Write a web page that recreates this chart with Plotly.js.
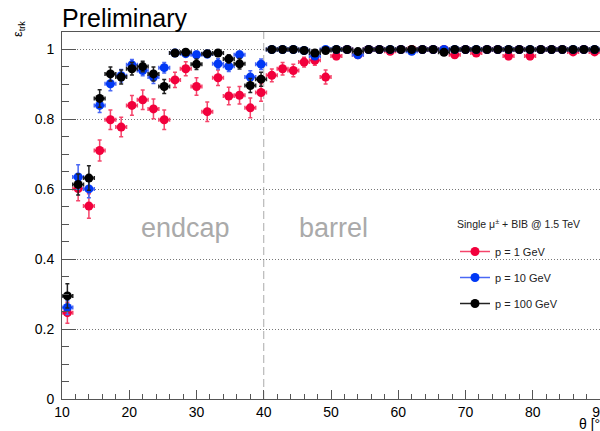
<!DOCTYPE html>
<html>
<head>
<meta charset="utf-8">
<script src="https://cdn.plot.ly/plotly-3.0.1.min.js"></script>
<style>html,body{margin:0;padding:0;background:#fff;}#chart{width:600px;height:431px;}</style>
</head>
<body>
<div id="chart"></div>
<script>
// Bin centres (theta, degrees), bins of width 1.6 deg from 10 to 90
const thetaCenters = [10.8,12.4,14.0,15.6,17.2,18.8,20.4,22.0,23.6,25.2,
  26.8,28.4,30.0,31.6,33.2,34.8,36.4,38.0,39.6,41.2,
  42.8,44.4,46.0,47.6,49.2,50.8,52.4,54.0,55.6,57.2,
  58.8,60.4,62.0,63.6,65.2,66.8,68.4,70.0,71.6,73.2,
  74.8,76.4,78.0,79.6,81.2,82.8,84.4,86.0,87.6,89.2];
const binHalfWidth = 0.8;

const effP1 = [0.247,0.602,0.552,0.711,0.799,0.778,0.840,0.856,0.830,0.799,
  0.913,0.945,0.894,0.822,0.919,0.867,0.869,0.833,0.877,0.926,
  0.945,0.940,0.964,0.969,0.921,0.981,1.000,0.985,1.000,1.000,
  0.995,1.000,1.000,1.000,1.000,1.000,0.985,1.000,0.990,1.000,
  1.000,0.981,1.000,0.981,1.000,1.000,1.000,0.993,1.000,0.993];
const errP1 = [0.030,0.035,0.035,0.030,0.028,0.028,0.028,0.028,0.028,0.028,
  0.022,0.020,0.025,0.028,0.022,0.025,0.025,0.028,0.025,0.018,
  0.018,0.018,0.014,0.014,0.020,0.010,0.004,0.010,0.004,0.004,
  0.006,0.004,0.004,0.004,0.004,0.004,0.010,0.004,0.008,0.004,
  0.004,0.010,0.004,0.010,0.004,0.004,0.004,0.006,0.004,0.006];

const effP10 = [0.262,0.635,0.601,0.840,0.902,0.925,0.956,0.940,0.921,0.948,
  0.990,0.988,0.985,0.987,0.959,0.952,0.985,0.921,0.958,1.000,
  1.000,1.000,0.997,0.981,1.000,1.000,1.000,0.985,1.000,1.000,
  1.000,1.000,0.995,1.000,1.000,1.000,1.000,1.000,1.000,1.000,
  1.000,1.000,1.000,1.000,1.000,1.000,1.000,1.000,1.000,1.000];
const errP10 = [0.020,0.035,0.025,0.020,0.020,0.018,0.015,0.015,0.018,0.015,
  0.008,0.008,0.010,0.010,0.015,0.015,0.010,0.018,0.015,0.004,
  0.004,0.004,0.004,0.008,0.004,0.004,0.004,0.008,0.004,0.004,
  0.004,0.004,0.005,0.004,0.004,0.004,0.004,0.004,0.004,0.004,
  0.004,0.004,0.004,0.004,0.004,0.004,0.004,0.004,0.004,0.004];

const effP100 = [0.295,0.614,0.632,0.860,0.930,0.921,0.945,0.951,0.930,0.894,
  0.990,0.992,0.958,0.988,0.990,0.973,0.959,0.897,0.915,1.000,
  1.000,1.000,0.997,0.990,0.997,1.000,1.000,0.994,1.000,1.000,
  1.000,1.000,1.000,1.000,1.000,0.992,1.000,1.000,1.000,1.000,
  1.000,1.000,1.000,1.000,1.000,1.000,1.000,1.000,1.000,1.000];
const errP100 = [0.035,0.030,0.035,0.025,0.020,0.020,0.018,0.015,0.020,0.020,
  0.008,0.008,0.015,0.008,0.008,0.012,0.015,0.020,0.020,0.004,
  0.004,0.004,0.004,0.006,0.004,0.004,0.004,0.005,0.004,0.004,
  0.004,0.004,0.004,0.004,0.004,0.006,0.004,0.004,0.004,0.004,
  0.004,0.004,0.004,0.004,0.004,0.004,0.004,0.004,0.004,0.004];

const seriesNames = ['p = 1 GeV','p = 10 GeV','p = 100 GeV'];
const legendHeader = 'Single μ<sup>±</sup> + BIB @ 1.5 TeV';
const xTickVals = [10,20,30,40,50,60,70,80,90];
const yTickVals = [0,0.2,0.4,0.6,0.8,1];

const FONT = 'Liberation Sans, Arial, Helvetica, sans-serif';
const markerCols = ['#f2003c','#0038f5','#000000'];
const barCols = ['#f5456b','#4a68f5','#222222'];
const effs = [effP1, effP10, effP100];
const errs = [errP1, errP10, errP100];

const traces = [];
for (let k = 0; k < 3; k++) {
  traces.push({
    type: 'scatter', mode: 'markers', x: thetaCenters, y: effs[k],
    showlegend: false, cliponaxis: false,
    marker: {symbol: 'circle', size: 9, color: markerCols[k], line: {width: 0}},
    error_y: {type: 'data', array: errs[k], visible: true, color: barCols[k], thickness: 1.5, width: 2},
    error_x: {type: 'constant', value: binHalfWidth, visible: true, color: barCols[k], thickness: 1.5, width: 2}
  });
}
for (let k = 0; k < 3; k++) {
  traces.push({
    type: 'scatter', mode: 'lines+markers', x: [null], y: [null],
    name: seriesNames[k], legendgroup: 'g' + k, showlegend: true,
    line: {color: barCols[k], width: 1.5},
    marker: {symbol: 'circle', size: 9, color: markerCols[k]}
  });
}

const L = 62, R = 600, T = 32, B = 399;
const px = v => (v - L) / (R - L);
const py = v => (B - v) / (B - T);

const layout = {
  width: 600, height: 431,
  margin: {l: 62, r: 0, t: 32, b: 32, pad: 0},
  paper_bgcolor: '#ffffff', plot_bgcolor: '#ffffff',
  font: {family: FONT, color: '#000', size: 14},
  showlegend: true,
  legend: {
    x: px(455), y: py(237), xanchor: 'left', yanchor: 'top',
    bgcolor: 'rgba(0,0,0,0)', borderwidth: 0,
    font: {family: FONT, size: 11, color: '#222'},
    tracegroupgap: 7, traceorder: 'grouped'
  },
  xaxis: {
    range: [10, 90], tickvals: xTickVals, ticktext: xTickVals.map(String),
    ticks: 'inside', ticklen: 9, tickwidth: 1, tickcolor: '#555',
    showline: true, linecolor: '#555', linewidth: 1, mirror: true,
    showgrid: false, zeroline: false, ticklabeloverflow: 'allow',
    tickfont: {family: FONT, size: 14, color: '#000'},
    minor: {ticks: 'inside', ticklen: 5, dtick: 2, tick0: 10, tickcolor: '#555', showgrid: false}
  },
  yaxis: {
    range: [0, 1.05], tickvals: yTickVals, ticktext: ['0','0.2','0.4','0.6','0.8','1'],
    ticks: 'inside', ticklen: 14, tickwidth: 1, tickcolor: '#555',
    showline: true, linecolor: '#555', linewidth: 1, mirror: true,
    showgrid: true, gridcolor: '#777', gridwidth: 1, griddash: '1px,2px',
    zeroline: false, ticklabelstandoff: 4,
    tickfont: {family: FONT, size: 14, color: '#000'},
    minor: {ticks: 'inside', ticklen: 7, dtick: 0.05, tick0: 0, tickcolor: '#555', showgrid: false}
  },
  shapes: [
    {type: 'line', xref: 'x', yref: 'paper', x0: 40, x1: 40, y0: 0, y1: 1,
     line: {color: '#aaaaaa', width: 1, dash: '8px,4px'}, layer: 'below'}
  ],
  annotations: [
    {text: 'Preliminary', xref: 'paper', yref: 'paper', x: 0, y: py(18), xanchor: 'left', yanchor: 'middle',
     xshift: -2, showarrow: false, font: {family: FONT, size: 25, color: '#000'}},
    {text: 'ε<sub>trk</sub>', xref: 'paper', yref: 'paper', x: px(19), y: py(29), xanchor: 'center', yanchor: 'middle',
     textangle: -90, showarrow: false, font: {family: FONT, size: 13, color: '#000'}},
    {text: 'θ [°]', xref: 'paper', yref: 'paper', x: px(577), y: py(424), xanchor: 'left', yanchor: 'middle',
     showarrow: false, font: {family: FONT, size: 14, color: '#000'}},
    {text: legendHeader, xref: 'paper', yref: 'paper', x: px(455), y: py(223), xanchor: 'left', yanchor: 'middle',
     showarrow: false, font: {family: FONT, size: 10.5, color: '#222'}},
    {text: 'endcap', xref: 'x', yref: 'y', x: 28.3, y: 0.489, xanchor: 'center', yanchor: 'middle',
     showarrow: false, font: {family: FONT, size: 27, color: '#aaaaaa'}},
    {text: 'barrel', xref: 'x', yref: 'y', x: 50.3, y: 0.489, xanchor: 'center', yanchor: 'middle',
     showarrow: false, font: {family: FONT, size: 27, color: '#aaaaaa'}}
  ]
};

Plotly.newPlot('chart', traces, layout, {displayModeBar: false, staticPlot: true});
</script>
</body>
</html>
